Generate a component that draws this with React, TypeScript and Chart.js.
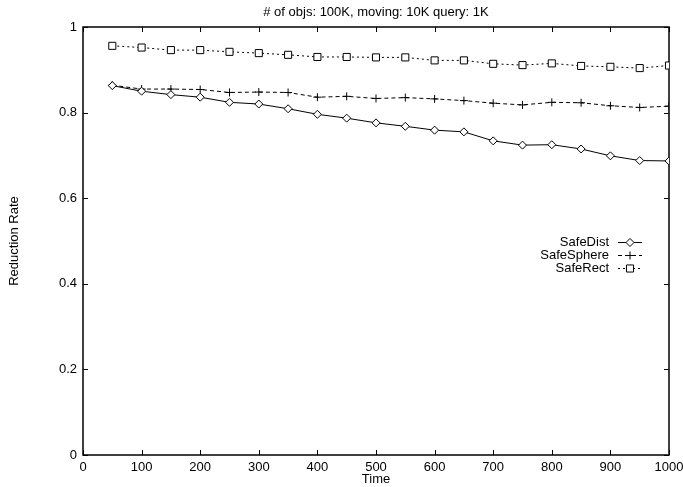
import React, { useEffect, useRef } from "react";
import { Chart, registerables } from "chart.js";

Chart.register(...registerables);

const times = [50, 100, 150, 200, 250, 300, 350, 400, 450, 500, 550, 600, 650, 700, 750, 800, 850, 900, 950, 1000];
const safeDist = [0.863, 0.850, 0.842, 0.836, 0.824, 0.820, 0.809, 0.796, 0.787, 0.776, 0.768, 0.759, 0.755, 0.734, 0.724, 0.725, 0.715, 0.699, 0.688, 0.687];
const safeSphere = [0.864, 0.855, 0.855, 0.854, 0.847, 0.848, 0.847, 0.836, 0.838, 0.833, 0.835, 0.832, 0.828, 0.822, 0.818, 0.824, 0.823, 0.816, 0.812, 0.815];
const safeRect = [0.956, 0.952, 0.946, 0.946, 0.942, 0.939, 0.935, 0.930, 0.930, 0.929, 0.929, 0.922, 0.922, 0.914, 0.911, 0.915, 0.909, 0.907, 0.904, 0.910];
const seriesNames = ["SafeDist", "SafeSphere", "SafeRect"];
const titleText = "# of objs: 100K, moving: 10K query: 1K";
const xTitle = "Time";
const yTitle = "Reduction Rate";

const FONT = "'Liberation Sans', Arial, Helvetica, sans-serif";
const FS = 13;

function drawMarker(ctx: CanvasRenderingContext2D, style: string, x: number, y: number, r: number) {
  ctx.beginPath();
  if (style === "rectRot") {
    ctx.moveTo(x, y - r);
    ctx.lineTo(x + r, y);
    ctx.lineTo(x, y + r);
    ctx.lineTo(x - r, y);
    ctx.closePath();
    ctx.fillStyle = "#fff";
    ctx.fill();
    ctx.stroke();
  } else if (style === "cross") {
    ctx.moveTo(x - r, y);
    ctx.lineTo(x + r, y);
    ctx.moveTo(x, y - r);
    ctx.lineTo(x, y + r);
    ctx.stroke();
  } else {
    const s = Math.SQRT1_2 * r;
    ctx.rect(x - s, y - s, 2 * s, 2 * s);
    ctx.fillStyle = "#fff";
    ctx.fill();
    ctx.stroke();
  }
}

const framePlugin = {
  id: "gnuFrame",
  beforeDatasetsDraw(chart: any) {
    const { ctx, chartArea: a, scales } = chart;
    ctx.save();
    ctx.strokeStyle = "#000";
    ctx.lineWidth = 1;
    ctx.beginPath();
    const tl = 5;
    scales.x.ticks.forEach((t: any) => {
      const px = Math.round(scales.x.getPixelForValue(t.value)) + 0.5;
      ctx.moveTo(px, a.bottom);
      ctx.lineTo(px, a.bottom - tl);
      ctx.moveTo(px, a.top);
      ctx.lineTo(px, a.top + tl);
    });
    scales.y.ticks.forEach((t: any) => {
      const py = Math.round(scales.y.getPixelForValue(t.value)) + 0.5;
      ctx.moveTo(a.left, py);
      ctx.lineTo(a.left + tl, py);
      ctx.moveTo(a.right, py);
      ctx.lineTo(a.right - tl, py);
    });
    ctx.stroke();
    ctx.lineWidth = 1.5;
    ctx.strokeRect(a.left, a.top, a.right - a.left, a.bottom - a.top);
    // title centred over the plot area
    ctx.font = `${FS}px ${FONT}`;
    ctx.fillStyle = "#000";
    ctx.textAlign = "center";
    ctx.textBaseline = "middle";
    ctx.fillText(titleText, (a.left + a.right) / 2, 12);
    ctx.restore();
  },
  afterDraw(chart: any) {
    const { ctx } = chart;
    ctx.save();
    ctx.font = `${FS}px ${FONT}`;
    ctx.textBaseline = "middle";
    ctx.textAlign = "right";
    const textX = 609;
    const x0 = 618;
    const x1 = 642;
    const y0 = 242;
    const dy = 13;
    chart.data.datasets.forEach((ds: any, i: number) => {
      const y = y0 + i * dy;
      ctx.fillStyle = "#000";
      ctx.fillText(ds.label, textX, y);
      ctx.strokeStyle = "#000";
      ctx.lineWidth = 1;
      ctx.setLineDash(ds.borderDash || []);
      ctx.beginPath();
      ctx.moveTo(x0, y + 0.5);
      ctx.lineTo(x1, y + 0.5);
      ctx.stroke();
      ctx.setLineDash([]);
      drawMarker(ctx, ds.pointStyle, (x0 + x1) / 2, y + 0.5, ds.pointRadius);
    });
    ctx.restore();
  },
};

export default function App() {
  const ref = useRef<HTMLCanvasElement>(null);
  useEffect(() => {
    document.body.style.margin = "0";
    const mk = (i: number, data: number[], style: string, dash: number[], r: number) => ({
      label: seriesNames[i],
      data: times.map((t, j) => ({ x: t, y: data[j] })),
      borderColor: "#000",
      backgroundColor: "#fff",
      borderWidth: 1,
      borderDash: dash,
      pointStyle: style,
      pointRadius: r,
      pointBorderWidth: 1,
      pointBorderColor: "#000",
      pointBackgroundColor: "#fff",
      tension: 0,
    });
    const chart = new Chart(ref.current!, {
      type: "line",
      data: {
        datasets: [
          mk(0, safeDist, "rectRot", [], 4),
          mk(1, safeSphere, "cross", [4, 3], 4),
          mk(2, safeRect, "rect", [2, 3], 5),
        ],
      },
      options: {
        responsive: false,
        animation: false,
        devicePixelRatio: 1,
        layout: { padding: { left: 0, right: 14, top: 27, bottom: 0 } },
        plugins: {
          legend: { display: false },
          tooltip: { enabled: false },
          title: { display: false },
        },
        scales: {
          x: {
            type: "linear",
            min: 0,
            max: 1000,
            afterFit: (s: any) => { s.height = 32; s.paddingLeft = 0; s.paddingRight = 0; },
            ticks: {
              stepSize: 100,
              color: "#000",
              font: { family: FONT, size: FS },
              padding: 5,
              maxRotation: 0,
              callback: (v: any) => String(v),
            },
            grid: { display: false, drawTicks: false },
            border: { display: false },
            title: { display: true, text: xTitle, color: "#000", font: { family: FONT, size: FS }, padding: { top: 0, bottom: 0 } },
          },
          y: {
            type: "linear",
            min: 0,
            max: 1,
            afterFit: (s: any) => { s.width = 83; s.paddingTop = 0; s.paddingBottom = 0; },
            ticks: {
              stepSize: 0.2,
              color: "#000",
              font: { family: FONT, size: FS },
              padding: 6,
              callback: (v: any) => String(Number(Number(v).toFixed(1))),
            },
            grid: { display: false, drawTicks: false },
            border: { display: false },
            title: { display: true, text: yTitle, color: "#000", font: { family: FONT, size: FS }, padding: { top: 7, bottom: 0 } },
          },
        },
      } as any,
      plugins: [framePlugin],
    });
    return () => chart.destroy();
  }, []);
  return (
    <div style={{ width: 683, height: 487, overflow: "hidden", background: "#fff" }}>
      <canvas ref={ref} width={683} height={487} style={{ display: "block" }} />
    </div>
  );
}
